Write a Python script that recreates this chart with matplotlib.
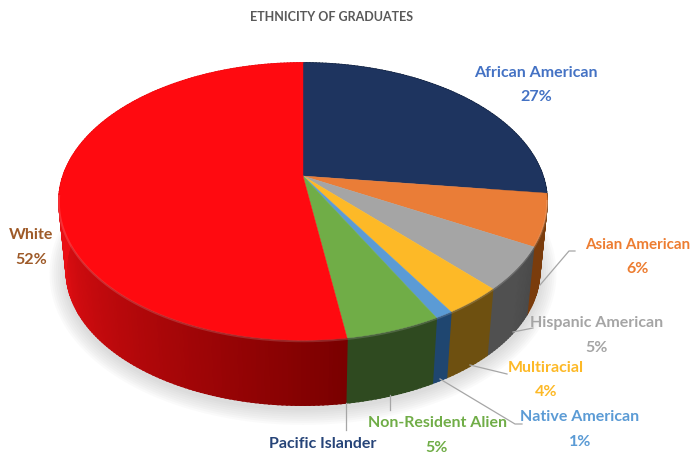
import numpy as np
import matplotlib
matplotlib.use('Agg')
import matplotlib.pyplot as plt

# Data, clockwise from 12 o'clock (slices, labels as printed)
names = ['African American', 'Asian American', 'Hispanic American', 'Multiracial',
         'Native American', 'Non-Resident Alien', 'White']
values = [27, 6, 5, 3.3, 1, 5.3, 52.4]
pct_labels = ['27%', '6%', '5%', '4%', '1%', '5%', '52%']

top_colors = ['#1e345f', '#ea7d37', '#a5a5a5', '#fdb927', '#5b9bd5', '#70ad47', '#ff0a10']
rim_start = ['#14233f', '#8a4612', '#4a4a4a', '#6e5010', '#1f4670', '#2f4a20', '#7a0000']
rim_end = ['#14233f', '#7a3c0c', '#505050', '#6e5010', '#1f4670', '#2f4a20', '#ea0f14']
text_colors = ['#4472c4', '#ed7d31', '#a5a5a5', '#fdb927', '#5b9bd5', '#70ad47', '#9e5a28']

label_pos = [(536, 73, 97), (638, 245, 269), (597, 323, 348), (546, 368, 392),
             (580, 417, 442), (437, 423, 448), (31, 235, 260)]

leaders = [[(540, 285), (569, 251), (575, 251)],
           [(513, 332), (533, 328)],
           [(470, 365), (507, 374)],
           [(440, 379), (515, 424), (522, 424)],
           [(390, 395), (390, 410)],
           [(346, 403), (346, 430)]]

# pie geometry, perspective projection of a circle
cx, cy = 303, 176
rx, ry, k = 240, 134, 0.184
depth, squeeze = 70, 0.97


def top_edge(a):
    u, v = np.sin(a), np.cos(a)
    w = 1 + k * v
    return cx + rx * u / w, cy - ry * v / w


def bottom_edge(a):
    x, y = top_edge(a)
    return cx + squeeze * (x - cx), cy + depth + squeeze * (y - cy)


fig = plt.figure(figsize=(6.93, 4.55), dpi=100)
ax = fig.add_axes([0, 0, 1, 1])
ax.set_xlim(0, 693)
ax.set_ylim(455, 0)
ax.axis('off')
plt.rcParams['font.family'] = ['Lato', 'DejaVu Sans']

# soft shadow under the pie
full = np.linspace(0, 2 * np.pi, 361)
sx, sy = bottom_edge(full)
for lw in range(24, 0, -3):
    ax.plot(sx, sy + 3, color='#808080', alpha=0.035, lw=lw, zorder=1)

edges = np.cumsum([0] + values) / sum(values) * 2 * np.pi

# side wall
for i in range(len(values)):
    c0 = np.array(matplotlib.colors.to_rgb(rim_start[i]))
    c1 = np.array(matplotlib.colors.to_rgb(rim_end[i]))
    seg = np.linspace(edges[i], edges[i + 1], max(int(values[i] * 4), 2) + 1)
    for j in range(len(seg) - 1):
        t = min(1, 2.1 * j / (len(seg) - 1))
        a = np.array([seg[j], seg[j + 1] + 0.004])
        x1, y1 = top_edge(a)
        x2, y2 = bottom_edge(a[::-1])
        col = c0 + (c1 - c0) * t
        ax.fill(np.r_[x1, x2], np.r_[y1, y2], fc=col, ec=col, lw=1.0, zorder=2)

# top face
for i in range(len(values)):
    a = np.linspace(edges[i], edges[i + 1], 120)
    x, y = top_edge(a)
    ax.fill(np.r_[cx, x], np.r_[cy, y], fc=top_colors[i], ec=top_colors[i], lw=0.3, zorder=3)

# light edge where the top meets the wall, front side only
fx = np.radians(np.linspace(100, 262, 200))
x, y = top_edge(fx)
ax.plot(x, y + 1, color='white', alpha=0.15, lw=1.5, zorder=4)

for pts in leaders:
    xs, ys = zip(*pts)
    ax.plot(xs, ys, color='#a6a6a6', lw=0.9, zorder=5)

for name, pct, col, (lx, ly1, ly2) in zip(names, pct_labels, text_colors, label_pos):
    size = 10.9 if name == 'Asian American' else 11.5
    ax.text(lx, ly1, name, color=col, fontsize=size, fontweight='bold', ha='center', va='center')
    ax.text(lx, ly2, pct, color=col, fontsize=11.5, fontweight='bold', ha='center', va='center')

ax.text(323, 444, 'Pacific Islander', color='#264478', fontsize=11.5, fontweight='bold',
        ha='center', va='center')
ax.text(332, 17, 'ETHNICITY OF GRADUATES', color='#595959', fontsize=9, fontweight='bold',
        ha='center', va='center')

fig.savefig('out.png', dpi=100)
